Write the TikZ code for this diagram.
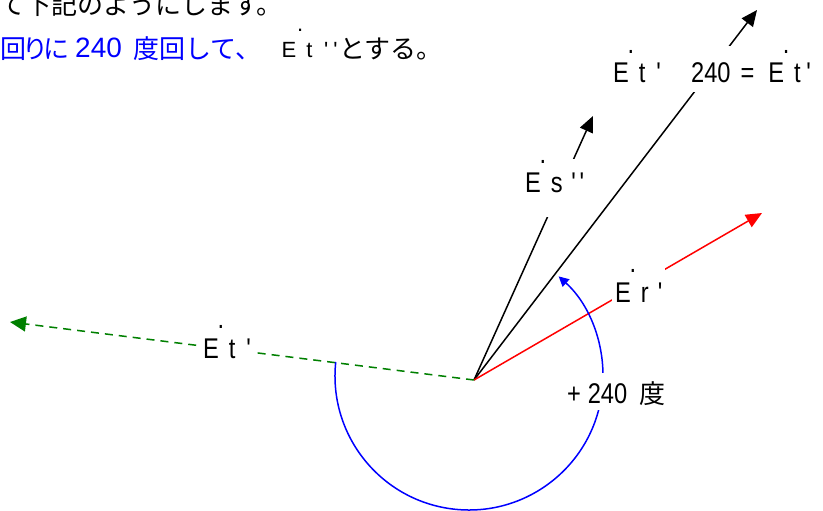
\documentclass[tikz,border=0pt]{standalone}
\usepackage{fontspec}
\usetikzlibrary{arrows.meta}
\newfontfamily\lat{Liberation Sans}[FakeStretch=0.83]
\newfontfamily\latw{Liberation Sans}
\newfontfamily\jp{Noto Sans CJK JP}
\definecolor{grn}{RGB}{0,128,0}
\definecolor{rd}{RGB}{255,0,0}
\definecolor{bl}{RGB}{0,0,255}
\newcommand\J[1]{{\jp\fontsize{26}{30}\selectfont #1}}
\newcommand\Edot[4]{\makebox[0pt][l]{\hspace{#2}\raisebox{#1}{.}}E\hspace{#3}#4}
\begin{document}
\begin{tikzpicture}[x=1pt,y=-1pt,
  vec/.style={line width=1.5pt,-{Triangle[length=16pt,width=14pt]}},
  lbl/.style={fill=white,inner xsep=3pt,inner ysep=0pt,anchor=base west,font=\lat\fontsize{28.5}{30}\selectfont},
  txt/.style={inner sep=0pt,anchor=base west}]
\useasboundingbox (0,0) rectangle (823,511);
\fill[white] (0,0) rectangle (823,511);
% points
\coordinate (O) at (474,380);
\coordinate (tT) at (757,10);
\coordinate (tS) at (593,116);
\coordinate (tR) at (762,213);
\coordinate (tG) at (10,322);
\coordinate (C) at (469,376);
% vectors
\draw[vec] (O) -- (tT);
\draw[vec] (O) -- (tS);
\draw[vec,color=rd] (O) -- (tR);
\draw[line width=1.5pt,color=grn,dash pattern=on 8pt off 6pt,-{Triangle[length=16pt,width=15pt]}] (O) -- (tG);
% rotation arc
\draw[bl,line width=1.5pt,-{Triangle[length=10pt,width=10pt]}] (C) ++(186:134) arc[start angle=174,end angle=408,radius=134pt];
% labels on vectors
\node[lbl,text height=37pt,text depth=9pt] (lT) at (610,83) {\Edot{29.5pt}{14.5pt}{10pt}{t}\hspace{10.7pt}'\hspace{30.4pt}240\hspace{10.1pt}=\hspace{13.8pt}\Edot{29.5pt}{14.5pt}{10pt}{t}\hspace{5.7pt}'};
\node[lbl,text height=34pt,text depth=24pt] (lS) at (522,193) {\Edot{29.5pt}{14.5pt}{10pt}{s}\hspace{8.5pt}'\hspace{3.9pt}'};
\node[lbl,text height=34pt,text depth=3pt] (lR) at (612,302) {\Edot{29.5pt}{14.5pt}{10pt}{r}\hspace{9.1pt}'};
\node[lbl,text height=32pt,text depth=2pt] (lG) at (200,358) {\Edot{29.5pt}{14.5pt}{10pt}{t}\hspace{10.7pt}'};
\node[lbl,text height=30pt,text depth=7pt] (lA) at (564,403) {+\hspace{6.8pt}240\hspace{12pt}\J{度}};
% heading text
\node[txt] (l1) at (-1,15) {\J{て下記のようにします。}};
\node[txt,text=bl] (l2a) at (0,59) {\J{回\kern-4ptり\kern-5ptに}};
\node[txt,text=bl,font=\latw\fontsize{28}{30}\selectfont] (l2b) at (75,58) {240};
\node[txt,text=bl] (l2c) at (133,59) {\J{度回して、}};
\node[txt,font=\latw\fontsize{22}{26}\selectfont] (l2d) at (281.3,58) {\Edot{26pt}{15.7pt}{10.3pt}{t}\hspace{11.6pt}'\hspace{5.1pt}'};
\node[txt] (l2e) at (339.5,59) {\J{とする。}};
\end{tikzpicture}
\end{document}
